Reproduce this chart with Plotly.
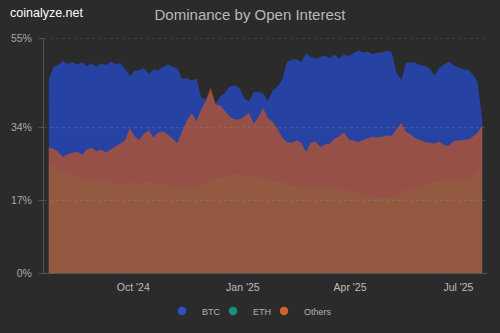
import pandas as pd
import plotly.graph_objects as go

# Open-interest dominance (%) sampled every 4 days
dates = pd.date_range("2024-07-22", periods=92, freq="4D")

btc = [45.2, 48.3, 48.7, 49.6, 48.9, 49.4, 48.8, 49.3, 48.4, 49.1,
       48.2, 49.1, 48.7, 49.5, 48.9, 49.1, 47.8, 46.1, 47.3, 47.5,
       48.0, 46.6, 47.6, 47.4, 48.3, 48.8, 48.2, 47.9, 45.4, 45.6,
       45.1, 45.5, 41.0, 40.7, 42.4, 39.6, 41.3, 42.2, 43.7, 43.8,
       43.4, 40.9, 40.2, 42.3, 42.4, 42.0, 40.3, 42.8, 43.6, 45.2,
       49.4, 49.9, 50.0, 49.4, 51.4, 50.6, 50.2, 50.6, 50.9, 50.3,
       51.1, 50.2, 51.2, 50.7, 51.4, 52.1, 51.6, 51.8, 51.2, 51.6,
       51.6, 52.1, 51.6, 47.0, 45.2, 49.2, 49.3, 49.2, 48.6, 48.5,
       47.8, 46.2, 48.1, 48.8, 49.5, 48.6, 48.1, 47.6, 47.6, 46.5,
       44.7, 36.0]

eth = [25.3, 24.8, 24.1, 23.6, 23.2, 22.9, 22.5, 22.2, 21.8, 21.5,
       21.9, 21.3, 21.1, 21.4, 20.8, 21.1, 20.7, 21.4, 21.1, 20.7,
       21.1, 21.4, 20.8, 21.1, 20.7, 20.6, 20.4, 20.5, 20.0, 19.7,
       19.4, 19.9, 20.8, 21.3, 21.8, 22.1, 22.2, 22.6, 22.7, 23.0,
       23.2, 22.8, 22.7, 22.4, 22.6, 22.2, 21.8, 21.5, 21.3, 21.4,
       20.8, 20.6, 20.4, 20.1, 19.9, 20.0, 20.1, 19.8, 19.7, 19.8,
       19.4, 19.5, 19.2, 19.3, 19.0, 18.7, 18.3, 18.0, 17.8, 17.6,
       17.6, 17.8, 17.8, 18.3, 19.2, 19.4, 19.7, 19.9, 20.4, 20.6,
       21.1, 21.3, 21.5, 21.9, 21.8, 21.5, 22.1, 22.2, 22.3, 22.5,
       23.6, 26.0]

others = [29.3, 29.1, 28.3, 27.1, 27.8, 28.2, 28.3, 27.7, 28.9, 29.3,
          28.5, 28.9, 28.2, 28.9, 29.5, 30.2, 31.0, 33.9, 32.0, 31.2,
          32.6, 33.4, 31.7, 32.9, 33.1, 32.4, 31.3, 30.4, 33.1, 35.7,
          37.4, 35.6, 38.2, 40.4, 43.5, 39.5, 39.2, 38.0, 36.6, 35.9,
          35.9, 36.6, 37.5, 35.0, 36.4, 38.6, 36.2, 35.4, 33.8, 31.7,
          30.6, 30.5, 31.0, 30.5, 28.3, 30.5, 30.8, 29.5, 30.1, 30.3,
          31.5, 32.0, 32.9, 31.3, 31.0, 30.6, 31.2, 31.5, 31.9, 31.7,
          31.9, 32.2, 32.1, 33.5, 35.1, 33.0, 32.4, 31.5, 31.2, 30.6,
          30.5, 30.3, 30.8, 29.9, 29.8, 30.9, 31.0, 31.2, 31.3, 31.9,
          32.8, 34.6]

x_tick_dates = ["2024-10-01", "2025-01-01", "2025-04-01", "2025-07-01"]
x_tick_labels = ["Oct '24", "Jan '25", "Apr '25", "Jul '25"]
y_ticks = [0, 17, 34, 55]

# name, values, area fill, legend dot, legend id, legend left edge (px)
series = [
    ("BTC", btc, "rgb(38,66,162)", "#2f4fc8", "legend", 162),
    ("ETH", eth, "rgba(20,150,120,0.3)", "#13937a", "legend2", 213),
    ("Others", others, "rgba(225,90,10,0.6)", "#d2612f", "legend3", 264),
]

BG = "#2b2b2b"
FONT = "Liberation Sans, Arial, sans-serif"
PLOT_L, PLOT_W = 44, 443

fig = go.Figure()
legends = {}
for name, vals, fill, dot, leg, left in series:
    fig.add_trace(go.Scatter(
        x=dates, y=vals, name=name, legendgroup=name, showlegend=False,
        mode="lines", line=dict(width=0, color=fill),
        fill="tozeroy", fillcolor=fill, hoverinfo="x+y+name",
    ))
    # round legend swatch
    fig.add_trace(go.Scatter(
        x=[None], y=[None], name=name, legendgroup=name, mode="markers",
        marker=dict(color=dot, size=8.5, symbol="circle"), legend=leg,
    ))
    legends[leg] = dict(orientation="h", xref="paper", xanchor="left",
                        x=(left - PLOT_L) / PLOT_W, y=-0.162, yanchor="middle",
                        font=dict(size=9, color="#b0b0b0"), bgcolor="rgba(0,0,0,0)")

# dashed guide lines drawn over the areas
for v in y_ticks[1:]:
    fig.add_shape(type="line", xref="paper", x0=0, x1=1, yref="y", y0=v, y1=v,
                  line=dict(color="rgba(140,140,140,0.4)", width=1, dash="3px,3px"),
                  layer="above")

fig.update_layout(
    width=500, height=333,
    paper_bgcolor=BG, plot_bgcolor=BG,
    margin=dict(l=PLOT_L, r=500 - PLOT_L - PLOT_W, t=38, b=60, autoexpand=False),
    font=dict(family=FONT, color="#aaaaaa", size=10.5),
    title=dict(text="Dominance by Open Interest", x=0.5, xref="container",
               xanchor="center", y=1 - 15 / 333, yref="container", yanchor="middle",
               font=dict(size=15, color="#b9b9b9", family=FONT)),
    showlegend=True,
    **legends,
    xaxis=dict(
        type="date", range=["2024-07-18", "2025-07-25"],
        tickvals=x_tick_dates, ticktext=x_tick_labels,
        showgrid=False, zeroline=False, showline=True, linecolor="#555555",
        ticks="", tickfont=dict(size=10.5, color="#bdbdbd"), ticklabelstandoff=4,
    ),
    yaxis=dict(
        range=[0, 55], tickvals=y_ticks, ticktext=[f"{v}%" for v in y_ticks],
        showgrid=False, zeroline=False, showline=True, linecolor="#555555",
        ticks="outside", ticklen=4, tickcolor="#555555",
        tickfont=dict(size=10.5, color="#a8a8a8"), ticklabelstandoff=5,
    ),
    annotations=[dict(
        text="coinalyze.net", xref="paper", yref="paper",
        x=(8 - PLOT_L) / PLOT_W, y=(273 - 13) / 235, xanchor="left", yanchor="middle",
        showarrow=False, font=dict(size=12.5, color="#ffffff", family=FONT),
    )],
)

fig.write_html("out.html")
